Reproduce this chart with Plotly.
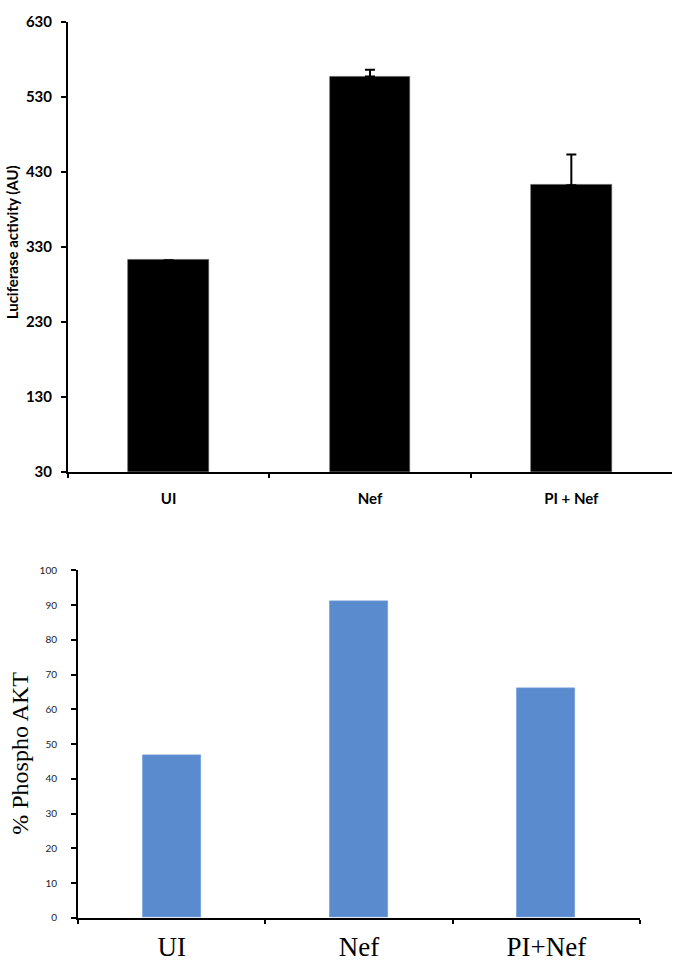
import plotly.graph_objects as go

# Top panel data
top_categories = ["UI", "Nef", "PI + Nef"]
top_values = [312, 557, 412]
top_errors = [None, 9, 41]
top_ticks = [30, 130, 230, 330, 430, 530, 630]

# Bottom panel data
bot_categories = ["UI", "Nef", "PI+Nef"]
bot_values = [46.7, 91.2, 66.0]
bot_ticks = list(range(0, 101, 10))

W, H = 675, 962

def px_x(x):
    return x / W

def px_y(y):
    return (H - y) / H

fig = go.Figure()

fig.add_trace(go.Bar(
    x=top_categories, y=top_values, width=0.4,
    marker=dict(color="black", line=dict(color="#555555", width=0.6)),
    error_y=dict(type="data", array=top_errors, arrayminus=[0, 0, 0], symmetric=False,
                 color="black", thickness=2, width=5),
    xaxis="x", yaxis="y", showlegend=False,
))

fig.add_trace(go.Bar(
    x=bot_categories, y=bot_values, width=0.31,
    marker=dict(color="#598BCE", line=dict(color="#6F9CD8", width=0.8)),
    xaxis="x2", yaxis="y2", showlegend=False,
))

axis_common = dict(showgrid=False, zeroline=False, showline=True, linecolor="black",
                   linewidth=2, ticks="outside", tickcolor="black", tickwidth=1.5)

fig.update_layout(
    width=W, height=H,
    margin=dict(l=0, r=0, t=0, b=0),
    paper_bgcolor="white", plot_bgcolor="white",
    bargap=0,
    xaxis=dict(domain=[px_x(68), px_x(672)], anchor="y", type="category",
               range=[-0.5, 2.5], tickson="boundaries", ticklen=4,
               tickfont=dict(family="Lato", size=15, color="black", weight="bold"),
               ticklabelstandoff=12, **axis_common),
    yaxis=dict(domain=[px_y(473), px_y(12)], anchor="x", range=[30, 630],
               tickvals=top_ticks, ticklen=5,
               tickfont=dict(family="Lato", size=15, color="black", weight="bold"),
               ticklabelstandoff=6, **axis_common),
    xaxis2=dict(domain=[px_x(78), px_x(640)], anchor="y2", type="category",
                range=[-0.5, 2.5], tickson="boundaries", ticklen=4,
                tickfont=dict(family="Liberation Serif", size=27, color="black"),
                ticklabelstandoff=4, **axis_common),
    yaxis2=dict(domain=[px_y(930), px_y(574)], anchor="x2", range=[0, 100],
                tickvals=bot_ticks, ticklen=5,
                tickfont=dict(family="Lato", size=10, color="#222222"),
                ticklabelstandoff=12, **axis_common),
    annotations=[
        dict(text="<b>Luciferase activity (AU)</b>", x=px_x(12), y=px_y(238),
             xref="paper", yref="paper", textangle=-90, showarrow=False,
             font=dict(family="Lato", size=15, color="black"), xanchor="center", yanchor="middle"),
        dict(text="% Phospho AKT", x=px_x(20), y=px_y(762),
             xref="paper", yref="paper", textangle=-90, showarrow=False,
             font=dict(family="Liberation Serif", size=24, color="black"), xanchor="center", yanchor="middle"),
    ],
)

fig.write_html("out.html", config={"displayModeBar": False},
               post_script="document.body.style.margin='0';document.body.style.overflow='hidden';")
